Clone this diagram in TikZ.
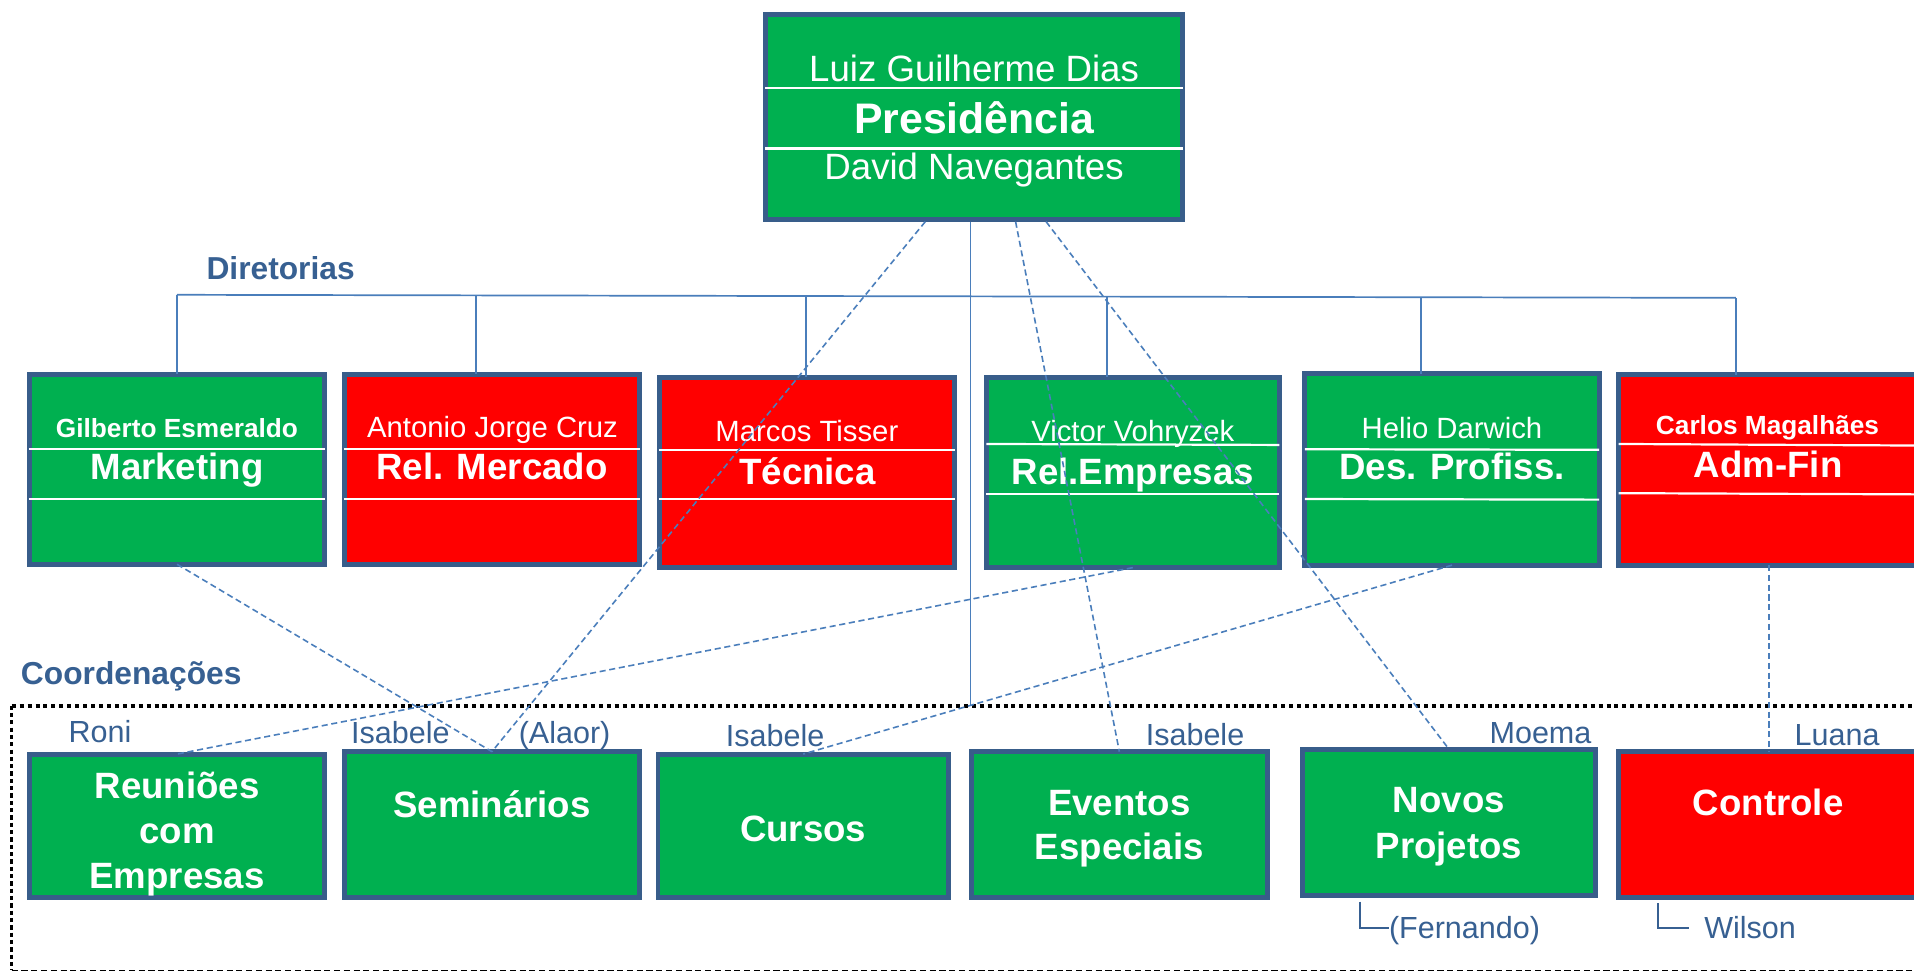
\documentclass[tikz,border=0pt]{standalone}
\usepackage{fontspec}
\setmainfont{Liberation Sans}
\definecolor{bordc}{RGB}{56,93,138}
\definecolor{connc}{RGB}{74,126,187}
\definecolor{lblc}{RGB}{55,96,146}
\definecolor{grn}{RGB}{0,176,80}
\definecolor{redb}{RGB}{255,0,0}
\begin{document}
\begin{tikzpicture}[x=1pt,y=-1pt,
 box/.style={draw=bordc, line width=4pt, inner sep=0pt, outer sep=0pt},
 wtxt/.style={text=white, inner sep=0pt, anchor=base},
 nametxt/.style={wtxt, font=\fontsize{24}{28}\selectfont},
 bnametxt/.style={wtxt, font=\fontsize{21.5}{26}\selectfont\bfseries},
 titletxt/.style={wtxt, font=\fontsize{30}{36}\selectfont\bfseries},
 lbl/.style={text=lblc, inner sep=0pt, anchor=base, font=\fontsize{25}{30}\selectfont},
 sect/.style={text=lblc, inner sep=0pt, anchor=base west, font=\fontsize{26}{31}\selectfont\bfseries},
 wline/.style={draw=white, line width=1.8pt},
 conn/.style={draw=connc, line width=1.4pt},
 dconn/.style={draw=connc, line width=1.3pt, dash pattern=on 5pt off 3pt},
 brk/.style={draw=lblc, line width=1.5pt},
]
\clip (0,0) rectangle (1568,796);
\fill[white] (0,0) rectangle (1568,796);

% ---------- boxes ----------
\node[box, fill=grn, minimum width=342pt, minimum height=168pt] (top) at (798,95.6) {};

\node[box, fill=grn,  minimum width=242pt, minimum height=155.7pt] (mkt)  at (145,384.4) {};
\node[box, fill=redb, minimum width=242pt, minimum height=155.7pt] (relm) at (403,384.4) {};
\node[box, fill=redb, minimum width=242pt, minimum height=156pt]   (tec)  at (661,387) {};
\node[box, fill=grn,  minimum width=240pt, minimum height=156pt]   (rele) at (928,387) {};
\node[box, fill=grn,  minimum width=241pt, minimum height=157pt]   (des)  at (1189.5,384.5) {};
\node[box, fill=redb, minimum width=246pt, minimum height=156pt]   (adm)  at (1449,385) {};

\node[box, fill=grn,  minimum width=242pt, minimum height=117.5pt] (reu) at (145,676.5) {};
\node[box, fill=grn,  minimum width=242pt, minimum height=119.5pt] (sem) at (403,675.5) {};
\node[box, fill=grn,  minimum width=238pt, minimum height=117.5pt] (cur) at (658,676.5) {};
\node[box, fill=grn,  minimum width=242pt, minimum height=119.5pt] (evt) at (917,675.5) {};
\node[box, fill=grn,  minimum width=240pt, minimum height=120pt]   (nov) at (1187,673.7) {};
\node[box, fill=redb, minimum width=246pt, minimum height=119.7pt] (ctl) at (1449,675.5) {};

% ---------- white separator lines ----------
\draw[wline] (top.west |- 0,72.4) -- (top.east |- 0,72.4);
\draw[wline] (top.west |- 0,121.6) -- (top.east |- 0,121.6);
\draw[wline] (mkt.west |- 0,368) -- (mkt.east |- 0,368);
\draw[wline] (mkt.west |- 0,409) -- (mkt.east |- 0,409);
\draw[wline] (relm.west |- 0,368) -- (relm.east |- 0,368);
\draw[wline] (relm.west |- 0,409) -- (relm.east |- 0,409);
\draw[wline] (tec.west |- 0,368.6) -- (tec.east |- 0,368.6);
\draw[wline] (tec.west |- 0,409) -- (tec.east |- 0,409);
\draw[wline] (rele.west |- 0,363.7) -- (rele.east |- 0,364.5);
\draw[wline] (rele.west |- 0,404.7) -- (rele.east |- 0,404.7);
\draw[wline] (des.west |- 0,368) -- (des.east |- 0,368.5);
\draw[wline] (des.west |- 0,408.8) -- (des.east |- 0,409.3);
\draw[wline] (adm.west |- 0,363.7) -- (adm.east |- 0,365);
\draw[wline] (adm.west |- 0,404) -- (adm.east |- 0,405);

% ---------- texts in boxes ----------
\node[wtxt, font=\fontsize{30}{36}\selectfont] (pn1) at (798,67) {Luiz Guilherme Dias};
\node[wtxt, font=\fontsize{35}{42}\selectfont\bfseries] (pti) at (798,109) {Presidência};
\node[wtxt, font=\fontsize{30}{36}\selectfont] (pn2) at (798,147) {David Navegantes};

\node[bnametxt] (mktn) at (145,358) {Gilberto Esmeraldo};
\node[titletxt] (mktt) at (145,392.7) {Marketing};
\node[nametxt] (relmn) at (403.5,358) {Antonio Jorge Cruz};
\node[titletxt] (relmt) at (403,393) {Rel. Mercado};
\node[nametxt] (tecn) at (661,362) {Marcos Tisser};
\node[titletxt] (tect) at (661.5,396.7) {Técnica};
\node[nametxt] (relen) at (928,362) {Victor Vohryzek};
\node[titletxt] (relet) at (928,396.7) {Rel.Empresas};
\node[nametxt] (desn) at (1189.5,359) {Helio Darwich};
\node[titletxt] (dest) at (1189.5,393) {Des. Profiss.};
\node[bnametxt] (admn) at (1448,356) {Carlos Magalhães};
\node[titletxt] (admt) at (1448.5,391) {Adm-Fin};

\node[titletxt] (reu1) at (145,654) {Reuniões};
\node[titletxt] (reu2) at (145,690.8) {com};
\node[titletxt] (reu3) at (145,727.5) {Empresas};
\node[titletxt] (semt) at (403,670) {Seminários};
\node[titletxt] (curt) at (658,689.5) {Cursos};
\node[titletxt] (evt1) at (917,667.7) {Eventos};
\node[titletxt] (evt2) at (917,704) {Especiais};
\node[titletxt] (nov1) at (1187,666) {Novos};
\node[titletxt] (nov2) at (1187,703) {Projetos};
\node[titletxt] (ctlt) at (1448.5,667.7) {Controle};

% ---------- section labels ----------
\node[sect] (dir) at (169,229) {Diretorias};
\node[sect] (coo) at (17,561) {Coordenações};

% ---------- person labels ----------
\node[lbl] (roni) at (82,608) {Roni};
\node[lbl] (isa1) at (328,608.7) {Isabele};
\node[lbl] (alaor) at (462.5,608.7) {(Alaor)};
\node[lbl] (isa2) at (635,611.7) {Isabele};
\node[lbl] (isa3) at (979,611) {Isabele};
\node[lbl] (moema) at (1262,608.8) {Moema};
\node[lbl] (luana) at (1505,611) {Luana};
\node[lbl, anchor=base west] (fern) at (1137.7,768.6) {(Fernando)};
\node[lbl, anchor=base west] (wils) at (1396,768.6) {Wilson};

% ---------- coordination area border ----------
\coordinate (cTL) at (9.6,578);
\coordinate (cBL) at (9.6,795);
\coordinate (cTR) at (1600,578);
\coordinate (cBR) at (1600,795);
\draw[black, line width=3.3pt, dash pattern=on 3.3pt off 3.2pt] (cTL) -- (cTR);
\draw[black, line width=2.3pt, dash pattern=on 3.5pt off 2.5pt] (cTL) -- (cBL);
\draw[black, line width=1.3pt, dash pattern=on 5pt off 3pt] (cBL) -- (cBR);

% ---------- bus to directors ----------
\coordinate (busL) at (145,241.5);
\coordinate (busR) at (1422,244);
\coordinate (b2) at (390,242);
\coordinate (b3) at (660,242.5);
\coordinate (b4) at (907,243);
\coordinate (b5) at (1164,243.5);
\draw[conn] (busL) -- (busR);
\draw[conn] (busL) -- (mkt.north);
\draw[conn] (b2) -- (b2 |- relm.north);
\draw[conn] (b3) -- (b3 |- tec.north);
\draw[conn] (b4) -- (b4 |- rele.north);
\draw[conn] (b5) -- (b5 |- des.north);
\draw[conn] (busR) -- (busR |- adm.north);

% ---------- from presidency ----------
\coordinate (t1) at (758,181.6);
\coordinate (t2) at (795,181.6);
\coordinate (t3) at (832,181.6);
\coordinate (t4) at (857,181.6);
\coordinate (ct) at (795,578);
\draw[conn, line width=1.2pt] (t2) -- (ct);
\draw[dconn] (t1) -- (sem.north);
\draw[dconn] (t3) -- (evt.north);
\draw[dconn] (t4) -- (nov.north);

% ---------- director to coordination ----------
\draw[dconn] (mkt.south) -- (sem.north);
\draw[dconn] (rele.south) -- (reu.north);
\draw[dconn] (des.south) -- (cur.north);
\draw[dconn] (adm.south) -- (ctl.north);

% ---------- brackets ----------
\coordinate (f1) at (1114.4,738.7);
\coordinate (f2) at (1137.7,760.5);
\coordinate (w1) at (1358,740);
\coordinate (w2) at (1383.8,760.5);
\draw[brk] (f1) |- (f2);
\draw[brk] (w1) |- (w2);
\end{tikzpicture}
\end{document}
